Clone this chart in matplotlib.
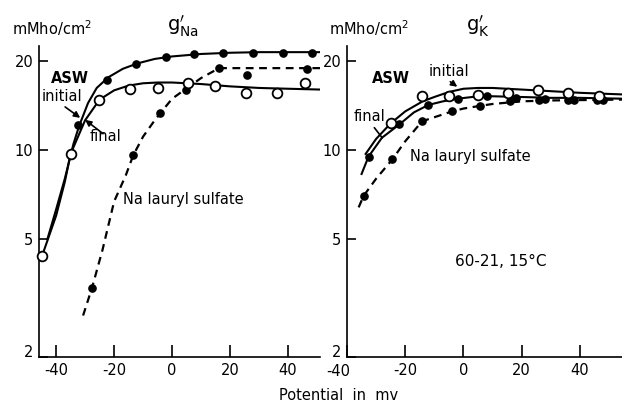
import matplotlib
matplotlib.use("Agg")
import matplotlib.pyplot as plt
from matplotlib.transforms import ScaledTranslation

# g'Na panel: measured points (mV, mMho/cm^2)
na_init_v = [-32.4, -22.4, -12.4, -2.1, 7.6, 17.6, 28.0, 38.3, 48.3]
na_init_g = [12.1, 17.3, 19.5, 20.6, 21.1, 21.3, 21.3, 21.3, 21.3]
na_final_v = [-44.8, -34.8, -25.2, -14.5, -4.8, 5.5, 14.8, 25.5, 36.2, 45.9]
na_final_g = [4.4, 9.7, 14.8, 16.1, 16.2, 16.9, 16.4, 15.6, 15.6, 16.9]
na_sls_v = [-27.6, -13.4, -4.1, 4.8, 16.2, 25.9, 46.6]
na_sls_g = [3.43, 9.6, 13.3, 16.0, 18.9, 17.9, 18.8]

# g'Na panel: hand-drawn curves
na_init_cv = [-43, -40, -37, -34, -32, -29, -26, -22, -17, -12, -6, 0, 10, 20, 30, 40, 51]
na_init_cg = [5.0, 6.3, 8.0, 10.5, 12.1, 14.4, 16.2, 17.6, 18.8, 19.6, 20.3, 20.7, 21.1, 21.3, 21.4, 21.4, 21.4]
na_final_cv = [-44.8, -40, -37, -35, -30, -25, -20, -15, -10, -5, 0, 10, 20, 30, 40, 51]
na_final_cg = [4.4, 6.0, 7.8, 9.7, 12.6, 14.8, 15.9, 16.5, 16.8, 16.9, 16.9, 16.7, 16.4, 16.2, 16.1, 16.0]
na_sls_cv = [-30.7, -27.6, -24, -20, -16, -13.4, -10, -6, -4.1, 0, 4.8, 10, 16.2, 30, 51]
na_sls_cg = [2.76, 3.43, 4.6, 6.7, 8.2, 9.6, 11.1, 12.6, 13.3, 14.9, 16.1, 17.5, 18.9, 18.9, 18.9]

# g'K panel: measured points
k_open_v = [-25.0, -14.2, -4.8, 5.0, 15.4, 25.7, 36.0, 46.6]
k_open_g = [12.3, 15.2, 15.2, 15.3, 15.6, 15.9, 15.6, 15.2]
k_fill_v = [-32.6, -22.0, -12.0, -2.0, 8.2, 18.0, 28.0, 38.0, 48.0]
k_fill_g = [9.5, 12.2, 14.2, 14.9, 15.2, 15.0, 14.9, 14.8, 14.7]
k_sls_v = [-34.3, -24.4, -14.2, -3.9, 5.8, 16.0, 26.0, 36.0, 46.0]
k_sls_g = [7.0, 9.3, 12.5, 13.5, 14.1, 14.6, 14.8, 14.7, 14.7]

# g'K panel: curves
k_up_cv = [-33.6, -30, -25, -20, -14, -10, -5, 0, 5, 10, 20, 30, 40, 55]
k_up_cg = [9.7, 10.9, 12.3, 13.5, 14.6, 15.1, 15.7, 16.1, 16.2, 16.2, 16.0, 15.8, 15.6, 15.4]
k_lo_cv = [-35, -32.6, -28, -22, -17, -12, -7, -2, 3, 8.2, 20, 30, 40, 55]
k_lo_cg = [8.3, 9.5, 11.0, 12.2, 13.4, 14.2, 14.6, 14.9, 15.1, 15.2, 15.1, 15.0, 15.0, 14.9]
k_sls_cv = [-36, -34.3, -30, -24.4, -20, -14.2, -10, -3.9, 0, 5.8, 10, 20, 30, 55]
k_sls_cg = [6.4, 7.0, 8.0, 9.3, 10.7, 12.5, 12.9, 13.5, 13.8, 14.1, 14.3, 14.6, 14.7, 14.8]

yticks = [2, 5, 10, 20]
xticks = [-40, -20, 0, 20, 40]

plt.rcParams['font.family'] = 'DejaVu Sans'
plt.rcParams['font.size'] = 10.5
plt.rcParams['axes.unicode_minus'] = False
plt.rcParams['mathtext.fontset'] = 'dejavusans'

fig = plt.figure(figsize=(6.22, 4.07), dpi=100)
axl = fig.add_axes([0.0627, 0.1229, 0.4518, 0.7641])
axr = fig.add_axes([0.5579, 0.1229, 0.4421, 0.7641])

dash = (0, (3.5, 2.5))
lw = 1.5


def style(ax, xlim):
    ax.set_yscale('log')
    ax.set_ylim(2, 22.45)
    ax.set_xlim(*xlim)
    ax.set_yticks(yticks)
    ax.set_yticklabels([str(t) for t in yticks])
    ax.minorticks_off()
    ax.set_xticks(xticks)
    ax.set_xticklabels([str(t) for t in xticks])
    for s in ['top', 'right']:
        ax.spines[s].set_visible(False)
    for s in ['left', 'bottom']:
        ax.spines[s].set_linewidth(1.2)
    ax.tick_params(axis='x', direction='in', length=8.5, width=1.2, pad=4)
    ax.tick_params(axis='y', direction='in', length=6.5, width=1.2, pad=4)
    # the "2" sits a little above the corner
    lab = ax.get_yticklabels()[0]
    lab.set_transform(lab.get_transform() + ScaledTranslation(0, 4 / 72, fig.dpi_scale_trans))


def filled(ax, v, g):
    ax.plot(v, g, 'o', ms=5.2, color='black', zorder=4, clip_on=False)


def hollow(ax, v, g):
    ax.plot(v, g, 'o', ms=7, mfc='white', mec='black', mew=1.3, zorder=5, clip_on=False)


# sodium conductance
axl.plot(na_init_cv, na_init_cg, '-', color='black', lw=lw)
axl.plot(na_final_cv, na_final_cg, '-', color='black', lw=lw)
axl.plot(na_sls_cv, na_sls_cg, color='black', lw=1.6, linestyle=dash)
filled(axl, na_init_v, na_init_g)
filled(axl, na_sls_v, na_sls_g)
hollow(axl, na_final_v, na_final_g)
style(axl, (-45.9, 51))

axl.text(-35.2, 17.5, 'ASW', ha='center', va='center', fontweight='bold')
axl.text(-37.9, 15.1, 'initial', ha='center', va='center')
axl.text(-23.1, 11.1, 'final', ha='center', va='center')
axl.text(-16.9, 6.78, 'Na lauryl sulfate', ha='left', va='center')
arrow = dict(arrowstyle='-|>', color='black', lw=1.2, mutation_scale=9, shrinkA=0, shrinkB=0)
axl.annotate('', xy=(-31.7, 12.84), xytext=(-36.9, 13.98), arrowprops=arrow)
axl.annotate('', xy=(-30.0, 12.64), xytext=(-23.8, 11.35), arrowprops=arrow)

# potassium conductance
axr.plot(k_up_cv, k_up_cg, '-', color='black', lw=lw)
axr.plot(k_lo_cv, k_lo_cg, '-', color='black', lw=lw)
axr.plot(k_sls_cv, k_sls_cg, color='black', lw=1.6, linestyle=dash)
filled(axr, k_fill_v, k_fill_g)
filled(axr, k_sls_v, k_sls_g)
hollow(axr, k_open_v, k_open_g)
style(axr, (-40, 54.5))
# first x label of the right panel is set off to the left of its axis
lab = axr.get_xticklabels()[0]
lab.set_transform(lab.get_transform() + ScaledTranslation(-6 / 72, -1 / 72, fig.dpi_scale_trans))

axr.text(-25.0, 17.5, 'ASW', ha='center', va='center', fontweight='bold')
axr.text(-5.1, 18.4, 'initial', ha='center', va='center')
axr.text(-32.2, 13.0, 'final', ha='center', va='center')
axr.text(-18.2, 9.48, 'Na lauryl sulfate', ha='left', va='center')
axr.text(12.7, 4.2, '60-21, 15°C', ha='center', va='center', fontsize=11)
axr.annotate('', xy=(-2.1, 16.35), xytext=(-4.5, 17.0), arrowprops=arrow)
axr.annotate('', xy=(-27.3, 10.8), xytext=(-31.2, 12.1),
             arrowprops=dict(arrowstyle='-', color='black', lw=1.2))

# headers and axis label
fig.text(12 / 622, 1 - 28 / 407, 'mMho/cm$^2$', ha='left', va='center')
fig.text(183 / 622, 1 - 26 / 407, r"$\mathrm{g}^{\prime}_{\mathrm{Na}}$", ha='center', va='center', fontsize=14)
fig.text(329 / 622, 1 - 28 / 407, 'mMho/cm$^2$', ha='left', va='center')
fig.text(478 / 622, 1 - 26 / 407, r"$\mathrm{g}^{\prime}_{\mathrm{K}}$", ha='center', va='center', fontsize=14)
fig.text(339 / 622, 1 - 395 / 407, 'Potential  in  mv', ha='center', va='center')

fig.savefig('out.png', dpi=100)
